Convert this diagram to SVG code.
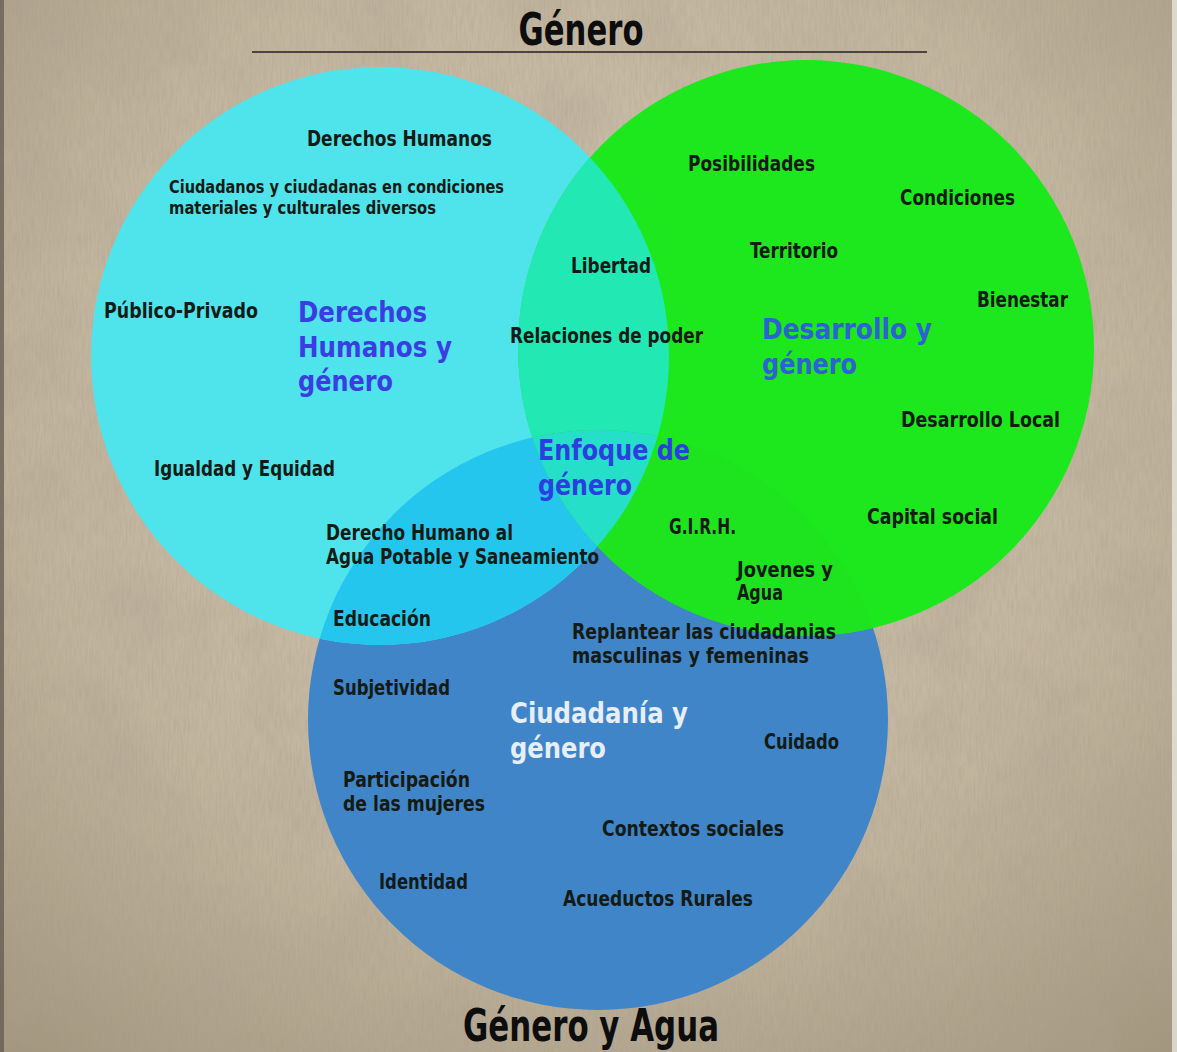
<svg xmlns="http://www.w3.org/2000/svg" width="1177" height="1052" viewBox="0 0 1177 1052">
<defs>
<radialGradient id="paper" cx="0.5" cy="0.4" r="0.78">
<stop offset="0" stop-color="#d0c5b1"/>
<stop offset="0.6" stop-color="#c2b59e"/>
<stop offset="1" stop-color="#a3967f"/>
</radialGradient>
<filter id="grain" x="0" y="0" width="100%" height="100%">
<feTurbulence type="fractalNoise" baseFrequency="0.5 0.06" numOctaves="3" seed="4" result="n"/>
<feColorMatrix in="n" type="matrix" values="0 0 0 0 0.36  0 0 0 0 0.31  0 0 0 0 0.24  0 0 0 -1.6 1.05"/>
</filter>
<filter id="mottle" x="0" y="0" width="100%" height="100%">
<feTurbulence type="fractalNoise" baseFrequency="0.012" numOctaves="4" seed="9" result="m"/>
<feColorMatrix in="m" type="matrix" values="0 0 0 0 0.42  0 0 0 0 0.37  0 0 0 0 0.29  0 0 0 -2.2 1.3"/>
</filter>
<clipPath id="clipA"><circle cx="380" cy="356" r="289"/></clipPath>
<clipPath id="clipB"><circle cx="806" cy="348" r="288"/></clipPath>
<clipPath id="clipC"><circle cx="598" cy="720" r="290"/></clipPath>
<style>
.lbl{font-family:"DejaVu Sans Condensed","Liberation Sans Narrow","Liberation Sans",sans-serif;font-weight:bold;font-size:21px;fill:#141a14}
.sm{font-size:17.5px}
.head{font-family:"DejaVu Sans Condensed","Liberation Sans Narrow","Liberation Sans",sans-serif;font-weight:bold;font-size:28px}
.ttl{font-family:"DejaVu Sans Condensed","Liberation Sans Narrow","Liberation Sans",sans-serif;font-weight:bold;font-size:44px;fill:#0d0d0d}
</style>
</defs>
<g id="background">
<rect width="1177" height="1052" fill="url(#paper)"/>
<rect width="1177" height="1052" filter="url(#mottle)" opacity="0.35"/>
<rect width="1177" height="1052" filter="url(#grain)" opacity="0.3"/>
<rect x="0" y="0" width="4" height="1052" fill="#5e564c" opacity="0.7"/>
<rect x="1172" y="0" width="5" height="1052" fill="#e8e4dc" opacity="0.8"/>
</g>
<g id="title">
<text class="ttl" x="581" y="45" text-anchor="middle" textLength="125" lengthAdjust="spacingAndGlyphs">Género</text>
<line x1="252" y1="52" x2="927" y2="52" stroke="#4a4540" stroke-width="2"/>
</g>
<g id="circles">
<circle id="circle-ciudadania" cx="598" cy="720" r="290" fill="#3f85c8"/>
<circle id="circle-derechos" cx="380" cy="356" r="289" fill="#4fe3ec"/>
<circle id="circle-desarrollo" cx="806" cy="348" r="288" fill="#1de81d"/>
<g clip-path="url(#clipA)"><circle cx="806" cy="348" r="288" fill="#22e8b4"/></g>
<g clip-path="url(#clipA)"><circle cx="598" cy="720" r="290" fill="#24c6ee"/></g>
<g clip-path="url(#clipB)"><circle cx="598" cy="720" r="290" fill="#1ee41f"/></g>
<g clip-path="url(#clipA)"><g clip-path="url(#clipB)"><circle cx="598" cy="720" r="290" fill="#26dfc8"/></g></g>
</g>
<g id="node-derechos">
<text class="head" fill="#3a3ee2" textLength="129" lengthAdjust="spacingAndGlyphs" x="298" y="322">Derechos</text>
<text class="head" fill="#3a3ee2" textLength="154" lengthAdjust="spacingAndGlyphs" x="298" y="357">Humanos y</text>
<text class="head" fill="#3a3ee2" textLength="95" lengthAdjust="spacingAndGlyphs" x="298" y="391">género</text>
<text class="lbl" x="307" y="146" textLength="185" lengthAdjust="spacingAndGlyphs">Derechos Humanos</text>
<text class="lbl sm" x="169" y="193" textLength="335" lengthAdjust="spacingAndGlyphs">Ciudadanos y ciudadanas en condiciones</text>
<text class="lbl sm" x="169" y="214" textLength="267" lengthAdjust="spacingAndGlyphs">materiales y culturales diversos</text>
<text class="lbl" x="104" y="318" textLength="154" lengthAdjust="spacingAndGlyphs">Público-Privado</text>
<text class="lbl" x="154" y="476" textLength="181" lengthAdjust="spacingAndGlyphs">Igualdad y Equidad</text>
</g>
<g id="node-desarrollo">
<text class="head" fill="#2c62d2" textLength="170" lengthAdjust="spacingAndGlyphs" x="762" y="339">Desarrollo y</text>
<text class="head" fill="#2c62d2" textLength="95" lengthAdjust="spacingAndGlyphs" x="762" y="374">género</text>
<text class="lbl" x="688" y="171" textLength="127" lengthAdjust="spacingAndGlyphs">Posibilidades</text>
<text class="lbl" x="900" y="205" textLength="115" lengthAdjust="spacingAndGlyphs">Condiciones</text>
<text class="lbl" x="750" y="258" textLength="88" lengthAdjust="spacingAndGlyphs">Territorio</text>
<text class="lbl" x="977" y="307" textLength="91" lengthAdjust="spacingAndGlyphs">Bienestar</text>
<text class="lbl" x="901" y="427" textLength="159" lengthAdjust="spacingAndGlyphs">Desarrollo Local</text>
<text class="lbl" x="867" y="524" textLength="131" lengthAdjust="spacingAndGlyphs">Capital social</text>
</g>
<g id="node-derechos-desarrollo">
<text class="lbl" x="571" y="273" textLength="80" lengthAdjust="spacingAndGlyphs">Libertad</text>
<text class="lbl" x="510" y="343" textLength="193" lengthAdjust="spacingAndGlyphs">Relaciones de poder</text>
</g>
<g id="node-enfoque">
<text class="head" fill="#2b3fe0" textLength="152" lengthAdjust="spacingAndGlyphs" x="538" y="460">Enfoque de</text>
<text class="head" fill="#2b3fe0" textLength="94" lengthAdjust="spacingAndGlyphs" x="538" y="495">género</text>
</g>
<g id="node-derechos-ciudadania">
<text class="lbl" x="326" y="540" textLength="187" lengthAdjust="spacingAndGlyphs">Derecho Humano al</text>
<text class="lbl" x="326" y="564" textLength="273" lengthAdjust="spacingAndGlyphs">Agua Potable y Saneamiento</text>
<text class="lbl" x="333" y="626" textLength="98" lengthAdjust="spacingAndGlyphs">Educación</text>
</g>
<g id="node-desarrollo-ciudadania">
<text class="lbl" x="669" y="534" textLength="67" lengthAdjust="spacingAndGlyphs">G.I.R.H.</text>
<text class="lbl" x="737" y="577" textLength="96" lengthAdjust="spacingAndGlyphs">Jovenes y</text>
<text class="lbl" x="737" y="600" textLength="46" lengthAdjust="spacingAndGlyphs">Agua</text>
</g>
<g id="node-ciudadania">
<text class="head" fill="#e6eef8" textLength="178" lengthAdjust="spacingAndGlyphs" x="510" y="723">Ciudadanía y</text>
<text class="head" fill="#e6eef8" textLength="96" lengthAdjust="spacingAndGlyphs" x="510" y="758">género</text>
<text class="lbl" x="572" y="639" textLength="264" lengthAdjust="spacingAndGlyphs">Replantear las ciudadanias</text>
<text class="lbl" x="572" y="663" textLength="237" lengthAdjust="spacingAndGlyphs">masculinas y femeninas</text>
<text class="lbl" x="333" y="695" textLength="117" lengthAdjust="spacingAndGlyphs">Subjetividad</text>
<text class="lbl" x="764" y="749" textLength="75" lengthAdjust="spacingAndGlyphs">Cuidado</text>
<text class="lbl" x="343" y="787" textLength="127" lengthAdjust="spacingAndGlyphs">Participación</text>
<text class="lbl" x="343" y="811" textLength="142" lengthAdjust="spacingAndGlyphs">de las mujeres</text>
<text class="lbl" x="602" y="836" textLength="182" lengthAdjust="spacingAndGlyphs">Contextos sociales</text>
<text class="lbl" x="379" y="889" textLength="89" lengthAdjust="spacingAndGlyphs">Identidad</text>
<text class="lbl" x="563" y="906" textLength="190" lengthAdjust="spacingAndGlyphs">Acueductos Rurales</text>
</g>
<g id="footer">
<text class="ttl" x="591" y="1041" text-anchor="middle" textLength="256" lengthAdjust="spacingAndGlyphs">Género y Agua</text>
</g>
<g id="connectors"/>
</svg>
